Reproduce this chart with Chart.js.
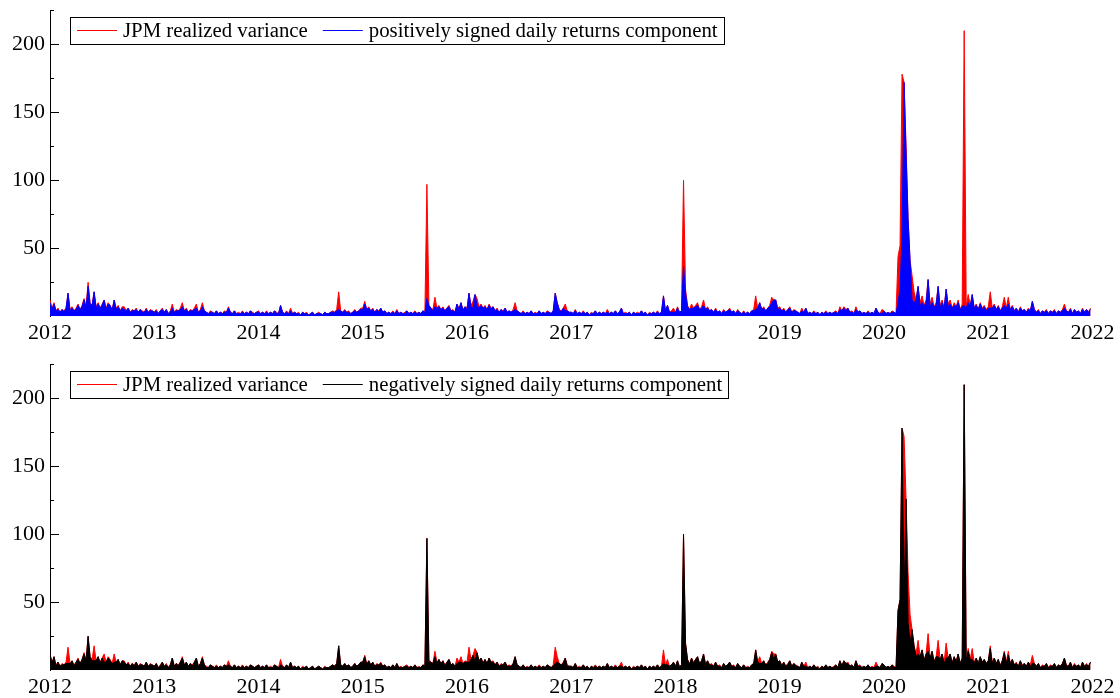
<!DOCTYPE html>
<html><head><meta charset="utf-8">
<script src="https://cdn.jsdelivr.net/npm/chart.js@4.4.1/dist/chart.umd.min.js"></script>
<style>
html,body{margin:0;padding:0;background:#fff;}
#wrap{position:relative;width:1120px;height:698px;overflow:hidden;}
canvas{position:absolute;left:0;}
</style></head><body>
<div id="wrap">
<canvas id="c1" width="1120" height="354" style="top:0"></canvas>
<canvas id="c2" width="1120" height="344" style="top:354px"></canvas>
</div>
<script>
// ---- time axis (weekly observations) ----
const startYear = 2012;
const endYear = 2022;
const perYear = 52;
const yearTicks = [2012, 2013, 2014, 2015, 2016, 2017, 2018, 2019, 2020, 2021, 2022];
const yLabelTicks = [50, 100, 150, 200];
const yMinorTicks = [25, 75, 125, 175, 225];
const yMax = 225;

const nameRV  = 'JPM realized variance';
const namePos = 'positively signed daily returns component';
const nameNeg = 'negatively signed daily returns component';

// ---- JPM realized variance ----
const rv = [
 12,6,10,4,6,3,5,4,6,17,5,7,4,6,9,5,8,13,7,25,10,8,18,7,10,6,9,12,6,10,8,5,12,6,8,4,7,7,4,6,3,5,4,6,3,5,4,3,6,3,5,4,
 3,5,2,4,6,3,5,2,4,9,3,5,4,6,10,4,6,3,5,4,6,9,3,5,10,4,3,2,4,3,2,4,2,3,2,4,3,7,3,2,4,2,3,2,4,2,3,2,4,3,2,3,
 4,2,3,2,4,2,3,2,4,3,2,8,3,2,4,2,6,2,3,2,3,1,3,2,3,1,2,3,1,2,3,2,1,3,2,2,3,4,3,5,18,4,3,5,3,4,2,3,5,3,4,6,
 6,11,5,7,4,6,3,5,4,6,3,4,2,3,2,4,2,5,2,3,2,3,4,2,3,2,4,2,3,2,4,3,97,8,6,5,14,6,8,5,7,4,6,8,4,5,3,9,6,10,5,7,
 6,17,8,11,16,13,7,9,6,8,5,9,6,7,4,6,3,5,4,6,3,4,3,5,10,4,3,2,4,2,3,2,4,2,3,2,4,2,3,2,4,3,2,4,17,10,5,4,6,9,4,3,
 3,2,5,2,3,2,4,2,3,1,3,2,4,2,3,2,3,2,5,2,3,2,4,2,3,6,2,3,2,3,1,3,2,3,2,4,2,3,1,3,2,3,2,4,2,3,15,4,8,3,4,6,
 3,7,3,4,100,20,8,5,9,6,8,10,5,7,12,5,7,4,5,3,6,3,4,2,5,3,4,6,3,4,2,5,3,2,4,2,3,2,4,5,15,6,10,5,7,4,6,8,14,12,12,6,
 7,4,6,3,5,7,3,5,4,3,2,6,3,6,2,3,2,4,2,3,1,3,2,4,2,3,2,3,4,2,7,4,7,5,6,3,4,2,7,3,4,2,3,2,4,2,3,2,6,3,2,5,
 4,2,3,2,4,3,2,44,52,178,172,126,72,41,30,18,12,22,10,15,8,12,27,9,14,7,10,22,8,12,6,20,9,12,6,10,7,12,5,9,210,7,16,8,16,6,9,5,10,6,8,5,
 7,18,6,9,5,8,4,7,14,6,14,5,8,4,6,3,7,4,5,3,6,4,11,5,3,5,2,4,3,5,2,4,3,5,2,4,3,5,9,4,3,6,2,5,3,4,2,6,3,5,3,6
];

// ---- positively signed daily returns component ----
const pos = [
 10,5,9,4,5,3,5,3,6,17,4,6,4,5,8,5,7,12,6,22,9,8,18,6,9,6,8,12,5,9,8,4,12,5,7,4,6,5,4,6,3,4,4,5,3,5,3,3,5,3,4,4,
 3,4,2,4,5,3,5,2,3,6,3,4,4,5,7,4,5,3,4,4,5,6,3,4,7,4,3,2,3,3,2,4,2,3,2,3,3,6,3,2,4,2,2,2,3,2,3,2,4,2,2,3,
 3,2,3,2,3,2,3,2,4,2,2,8,3,2,3,2,4,2,3,2,2,1,3,2,2,1,2,3,1,2,2,2,1,3,2,2,3,3,3,4,5,4,3,4,3,3,2,3,4,3,4,5,
 5,9,5,6,4,5,3,5,3,6,3,4,2,3,2,3,2,4,2,3,2,2,4,2,3,2,3,2,3,2,4,3,13,8,6,4,7,6,7,5,6,4,6,7,4,4,3,9,5,10,4,7,
 5,17,7,6,16,8,6,8,6,7,5,8,5,7,4,5,3,5,3,6,3,4,3,4,5,4,3,2,3,2,3,2,4,2,2,2,4,2,3,2,3,3,2,4,17,10,5,3,6,4,4,3,
 3,2,4,2,3,2,3,2,3,1,2,2,4,2,3,2,3,2,3,2,3,2,4,2,3,6,2,2,2,3,1,3,2,2,2,4,2,3,1,2,2,3,2,3,2,3,15,4,8,3,3,3,
 3,6,3,4,37,17,7,5,6,6,7,8,5,6,8,5,6,4,5,3,5,3,4,2,4,3,4,5,3,4,2,4,3,2,3,2,3,2,4,4,5,6,10,5,6,4,6,7,10,12,12,5,
 6,4,5,3,5,6,3,4,4,3,2,4,3,6,2,3,2,3,2,3,1,3,2,3,2,3,2,3,3,2,5,4,6,4,6,3,3,2,5,3,4,2,3,2,3,2,3,2,6,3,2,2,
 4,2,3,2,3,3,2,10,20,60,172,120,72,41,12,10,12,22,8,10,8,9,27,7,10,7,8,22,6,10,6,20,7,9,6,8,7,10,5,7,8,6,10,7,16,6,8,5,9,5,7,4,
 6,6,6,8,5,7,4,6,8,6,9,5,7,4,6,3,6,4,5,3,5,4,11,5,3,4,2,4,3,4,2,4,3,4,2,4,3,4,6,4,3,5,2,5,3,4,2,5,3,5,3,5
];

// ---- negatively signed daily returns component ----
const neg = [
 12,5,10,3,6,3,4,4,5,5,5,7,3,6,8,5,8,12,7,25,10,7,7,7,10,5,9,6,6,9,7,5,6,6,8,4,7,6,4,5,3,5,3,6,3,4,4,3,6,3,4,4,
 3,5,2,3,6,3,4,2,4,9,3,5,3,6,9,4,6,3,5,3,6,9,3,5,9,4,2,2,4,3,2,3,2,3,2,4,3,4,3,2,4,2,3,2,3,2,3,2,4,3,2,3,
 4,2,3,2,4,2,2,2,4,3,2,4,3,2,4,2,6,2,3,2,3,1,2,2,3,1,2,3,1,2,3,2,1,2,2,2,3,4,3,5,18,4,3,5,3,4,2,3,5,3,4,6,
 6,10,4,7,4,6,3,4,4,5,3,4,2,3,2,4,2,5,2,2,2,3,3,2,3,2,4,2,2,2,4,3,97,6,6,5,10,5,8,5,7,3,6,8,4,5,3,5,6,6,5,6,
 6,6,8,11,7,13,7,9,5,8,5,9,6,6,4,6,3,4,4,6,3,3,3,5,10,4,3,2,4,2,2,2,4,2,3,2,3,2,3,2,4,3,2,3,5,6,5,4,5,9,3,3,
 3,2,5,2,2,2,4,2,3,1,3,2,3,2,3,2,3,2,5,2,3,2,3,2,3,3,2,3,2,3,1,2,2,3,2,4,2,3,1,3,2,3,2,4,2,3,5,4,4,3,4,6,
 3,7,2,4,100,20,8,4,9,5,8,10,5,7,12,4,7,4,4,3,6,3,3,2,5,3,4,6,3,3,2,5,3,2,4,2,2,2,4,5,15,6,5,5,7,4,5,8,13,8,12,6,
 7,3,6,3,4,7,3,5,3,3,2,6,3,3,2,3,2,4,2,2,1,3,2,4,2,3,2,2,4,2,7,3,7,5,5,3,4,2,7,3,3,2,3,2,4,2,2,2,3,3,2,5,
 4,2,3,2,4,2,2,44,52,178,50,126,35,20,30,18,10,12,10,15,7,12,14,9,14,6,10,10,8,12,5,9,9,12,5,10,6,12,5,9,210,7,14,8,8,5,9,5,10,6,8,5,
 7,16,5,9,5,8,3,7,13,5,11,5,8,4,5,3,7,3,5,3,6,3,5,5,3,5,2,3,3,5,2,3,3,5,2,4,3,5,9,3,3,6,2,4,3,4,2,6,3,4,3,6
];

const FONT = '"Liberation Serif", "Times New Roman", Times, serif';

function toPoints(arr) {
  return arr.map((v, i) => ({ x: startYear + i / perYear, y: v }));
}

const inwardTicks = {
  id: 'inwardTicks',
  afterDatasetsDraw(chart) {
    const { ctx, chartArea: a, scales: { y } } = chart;
    ctx.save();
    ctx.strokeStyle = '#000';
    ctx.lineWidth = 1;
    const draw = (v, len) => {
      const py = Math.round(y.getPixelForValue(v)) + 0.5;
      ctx.beginPath();
      ctx.moveTo(a.left, py);
      ctx.lineTo(a.left + len, py);
      ctx.stroke();
    };
    yLabelTicks.forEach(v => draw(v, 9));
    yMinorTicks.forEach(v => draw(v, 4));
    ctx.restore();
  }
};

const boxLegend = {
  id: 'boxLegend',
  afterDraw(chart) {
    const { ctx, chartArea: a } = chart;
    const ds = chart.data.datasets;
    ctx.save();
    ctx.font = '20.8px ' + FONT;
    const x0 = a.left + 20, y0 = a.top + 6.5, h = 27;
    const padL = 7, lineLen = 40, gap = 6, itemGap = 15, padR = 6;
    const cy = Math.round(y0 + h / 2) + 0.5;
    let x = x0 + padL;
    ds.forEach((d, i) => {
      ctx.strokeStyle = d.borderColor;
      ctx.lineWidth = 1;
      ctx.beginPath();
      ctx.moveTo(x, cy);
      ctx.lineTo(x + lineLen, cy);
      ctx.stroke();
      x += lineLen + gap;
      ctx.fillStyle = '#000';
      ctx.textBaseline = 'middle';
      ctx.textAlign = 'left';
      ctx.fillText(d.label, x, cy + 1);
      x += ctx.measureText(d.label).width;
      if (i < ds.length - 1) x += itemGap;
    });
    const w = x + padR - x0;
    ctx.strokeStyle = '#000';
    ctx.lineWidth = 1;
    ctx.strokeRect(Math.round(x0) + 0.5, Math.round(y0) + 0.5, Math.round(w), h);
    ctx.restore();
  }
};

function makeChart(id, compData, compName, compColor, xAxisHeight) {
  return new Chart(document.getElementById(id), {
    type: 'line',
    data: {
      datasets: [
        { label: nameRV, data: toPoints(rv), borderColor: '#ff0000', backgroundColor: '#ff0000',
          borderWidth: 1, pointRadius: 0, tension: 0, fill: 'origin', order: 2 },
        { label: compName, data: toPoints(compData), borderColor: compColor, backgroundColor: compColor,
          borderWidth: 1, pointRadius: 0, tension: 0, fill: 'origin', order: 1 }
      ]
    },
    options: {
      responsive: false,
      animation: false,
      events: [],
      parsing: false,
      normalized: true,
      layout: { autoPadding: false, padding: { left: 0, right: 27.5, top: 10.3, bottom: 0 } },
      plugins: { legend: { display: false }, tooltip: { enabled: false } },
      scales: {
        x: {
          type: 'linear', min: startYear, max: endYear,
          afterBuildTicks: s => { s.ticks = yearTicks.map(v => ({ value: v })); },
          afterFit: s => { s.height = xAxisHeight; s.paddingLeft = 0; s.paddingRight = 0; },
          ticks: { callback: v => String(v), font: { family: FONT, size: 22 }, color: '#000',
                   padding: 4, maxRotation: 0, autoSkip: false },
          grid: { display: false, drawTicks: false },
          border: { display: false }
        },
        y: {
          min: 0, max: yMax,
          afterBuildTicks: s => { s.ticks = yLabelTicks.map(v => ({ value: v })); },
          afterFit: s => { s.width = 50; s.paddingTop = 0; s.paddingBottom = 0; },
          ticks: { callback: v => String(v), font: { family: FONT, size: 22 }, color: '#000', padding: 5 },
          grid: { display: false, drawTicks: false },
          border: { display: true, color: '#000', width: 1 }
        }
      }
    },
    plugins: [inwardTicks, boxLegend]
  });
}

makeChart('c1', pos, namePos, '#0000ff', 37.7);
makeChart('c2', neg, nameNeg, '#000000', 27.7);
</script>
</body></html>
